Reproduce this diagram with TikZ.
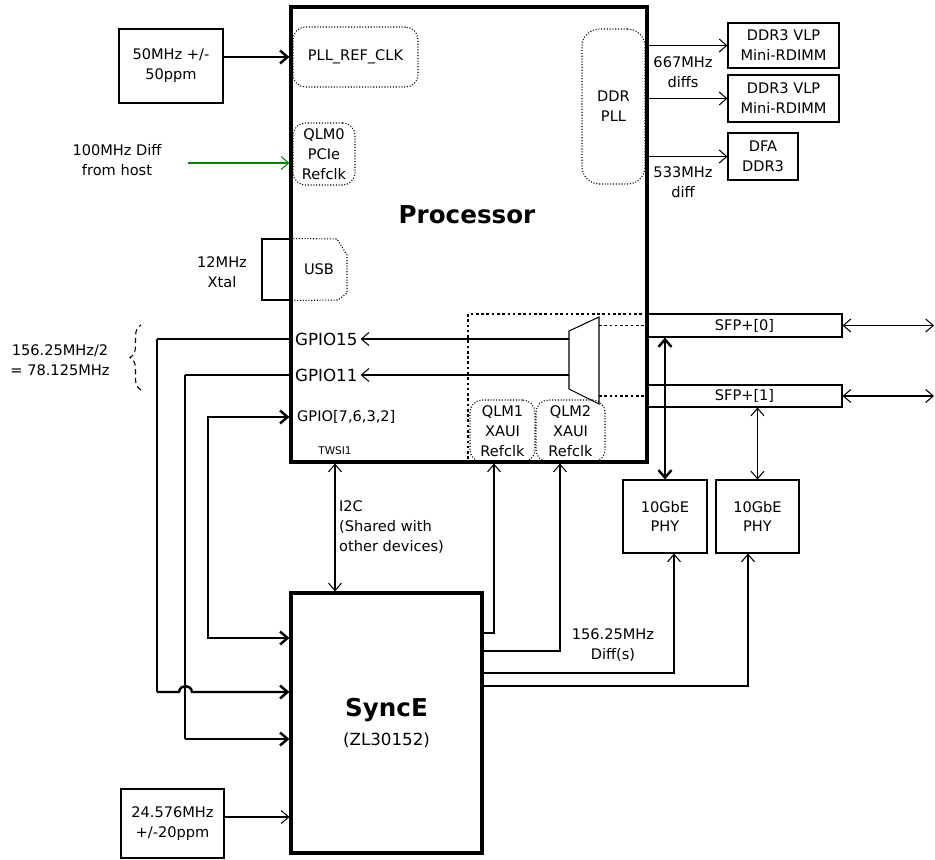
\documentclass[tikz,border=0pt]{standalone}
\usepackage{fontspec}
\setmainfont{DejaVu Sans}
\usetikzlibrary{arrows.meta,fit,decorations.pathreplacing}

\begin{document}
\begin{tikzpicture}[x=0.02cm,y=-0.02cm,line width=0.6pt,
  >={Straight Barb[length=0.15cm,width=0.26cm]},
  every node/.style={font=\fontsize{8.3}{11.3}\selectfont,inner sep=1.5pt},
  box/.style={draw,inner sep=0pt},
  dotbox/.style={draw,densely dotted,rounded corners=0.25cm,inner sep=0pt},
  chip/.style={draw,line width=1.8pt,inner sep=0pt},
  boxtxt/.style={label={[align=center]center:#1}},
  thk/.style={line width=1.4pt},
  fdash/.style={dash pattern=on 1.5pt off 1.5pt},
  gpio/.style={anchor=west,font=\fontsize{9.5}{11}\selectfont}]
\useasboundingbox (0,0) rectangle (935,859);

% processor
\node[chip,fit={(291,7) (647,462)}] (proc) {};
\node[font=\fontsize{14}{16}\selectfont\bfseries] (proclbl) at (467,215) {Processor};
\node[dotbox,fit={(293,27) (418,87)},boxtxt={PLL\_REF\_CLK}] (pllref) {};
\node[dotbox,fit={(293,123) (355,185)},boxtxt={QLM0\\PCIe\\Refclk}] (qlm0) {};
\node[dotbox,rounded corners=0.35cm,fit={(582,29) (645,184)},boxtxt={DDR\\PLL}] (ddrpll) {};
\node[inner sep=0pt,fit={(291,239) (347,300)},boxtxt={USB}] (usb) {};
\draw[densely dotted] (usb.north west) -- (337,239) -- (347,255) -- (347,293) -- (338,300) -- (usb.south west);
\node[gpio] (gpio15) at (292,339) {GPIO15};
\node[gpio] (gpio11) at (292,375) {GPIO11};
\node[anchor=west] (gpio7) at (294,417) {GPIO[7,6,3,2]};
\node[font=\fontsize{6}{7}\selectfont] (twsi) at (335,451) {TWSI1};

% xaui block with mux
\node[draw,fdash,inner sep=0pt,fit={(468,314) (647,462)}] (xaui) {};
\node[dotbox,fit={(470,400) (535,462)},boxtxt={QLM1\\XAUI\\Refclk}] (qlm1) {};
\node[dotbox,fit={(536,400) (605,462)},boxtxt={QLM2\\XAUI\\Refclk}] (qlm2) {};
\coordinate (muxa) at (569,331);
\coordinate (muxb) at (599,317);
\coordinate (muxc) at (599,404);
\coordinate (muxd) at (569,389);
\draw (muxa) -- (muxb) -- (muxc) -- (muxd) -- cycle;
\draw[->] (muxa |- gpio15) -- (gpio15.east);
\draw[->] (muxa |- gpio11) -- (gpio11.east);

% clock inputs
\node[box,fit={(119,29) (223,103)},boxtxt={50MHz +/-\\50ppm}] (osc50) {};
\draw[thk,->] (osc50.east |- pllref) -- (pllref -| proc.west);
\node[align=center] (host) at (117,160) {100MHz Diff\\from host};
\coordinate (hostsrc) at (188,163);
\draw[->,draw=green!50!black] (hostsrc) -- (hostsrc -| proc.west);
\node[box,fit={(262,239) (291,300)}] (xtal) {};
\node[align=center] (xtallbl) at (222,272) {12MHz\\Xtal};

% memories
\node[box,fit={(728,23) (839,68)},boxtxt={DDR3 VLP\\Mini-RDIMM}] (dimm1) {};
\node[box,fit={(728,75) (839,122)},boxtxt={DDR3 VLP\\Mini-RDIMM}] (dimm2) {};
\node[box,fit={(728,133) (798,180)},boxtxt={DFA\\DDR3}] (dfa) {};
\draw[->] (dimm1.west -| proc.east) -- (dimm1.west);
\draw[->] (dimm2.west -| proc.east) -- (dimm2.west);
\draw[->] (dfa.west -| proc.east) -- (dfa.west);
\node[align=center] (lbl667) at (683,72) {667MHz\\diffs};
\node[align=center] (lbl533) at (683,182) {533MHz\\diff};

% sfp ports and phys
\node[box,fit={(647,314) (842,337)},boxtxt={SFP+[0]}] (sfp0) {};
\node[box,fit={(647,385) (842,407)},boxtxt={SFP+[1]}] (sfp1) {};
\draw[fdash] (muxb |- sfp0) -- (sfp0.west);
\draw[fdash] (muxc |- sfp1) -- (sfp1.west);
\coordinate (port0) at (sfp0.east -| 934,0);
\coordinate (port1) at (sfp1.east -| 934,0);
\draw[<->] (sfp0.east) -- (port0);
\draw[<->] (sfp1.east) -- (port1);
\node[box,fit={(623,480) (707,553)},boxtxt={10GbE\\PHY}] (phy1) {};
\node[box,fit={(716,480) (799,553)},boxtxt={10GbE\\PHY}] (phy2) {};
\draw[thk,<->] (phy1.north) -- (phy1.north |- sfp0.south);
\draw[<->] (phy2.north) -- (phy2.north |- sfp1.south);

% synce
\node[chip,fit={(291,593) (482,853)},
  label={[align=center,font=\fontsize{14}{16}\selectfont\bfseries]center:SyncE\\{\fontsize{9.5}{11}\selectfont\mdseries (ZL30152)}}] (sync) {};
\node[box,fit={(121,789) (224,858)},boxtxt={24.576MHz\\+/-20ppm}] (osc24) {};
\draw[->] (osc24.east |- 0,817) -- (sync.west |- 0,817);
\draw[<->] (sync.north -| twsi) -- (proc.south -| twsi);
\node[anchor=west,align=left] (i2clbl) at (336,527) {I2C\\(Shared with\\other devices)};

% gpio loops
\draw[thk] (proc.west |- gpio15) -- (157,339);
\draw (157,339) -- (157,692);
\draw[thk,->] (157,692) -- (179,692) .. controls (180,684) and (191,684) .. (192,692) -- (sync.west |- 0,692);
\draw[thk] (proc.west |- gpio11) -- (185,375);
\draw (185,375) -- (185,739);
\draw[thk,->] (185,739) -- (sync.west |- 0,739);
\draw[thk,<->] (sync.west |- 0,638) -- (208,638) -- (208,417) -- (proc.west |- gpio7);
\node[align=center] (divlbl) at (60,360) {156.25MHz/2\\= 78.125MHz};
\draw[dash pattern=on 3pt off 2pt,decorate,decoration={brace,amplitude=0.22cm}] (141,390) -- (141,325);

% synce clock outputs
\draw[->] (sync.east |- 0,633) -| (proc.south -| 494,0);
\draw[->] (sync.east |- 0,651) -| (proc.south -| 560,0);
\draw[->] (sync.east |- 0,673) -| (phy1.south -| 674,0);
\draw[->] (sync.east |- 0,686) -| (phy2.south -| 748,0);
\node[align=center] (difflbl) at (613,645) {156.25MHz\\Diff(s)};
\end{tikzpicture}
\end{document}
